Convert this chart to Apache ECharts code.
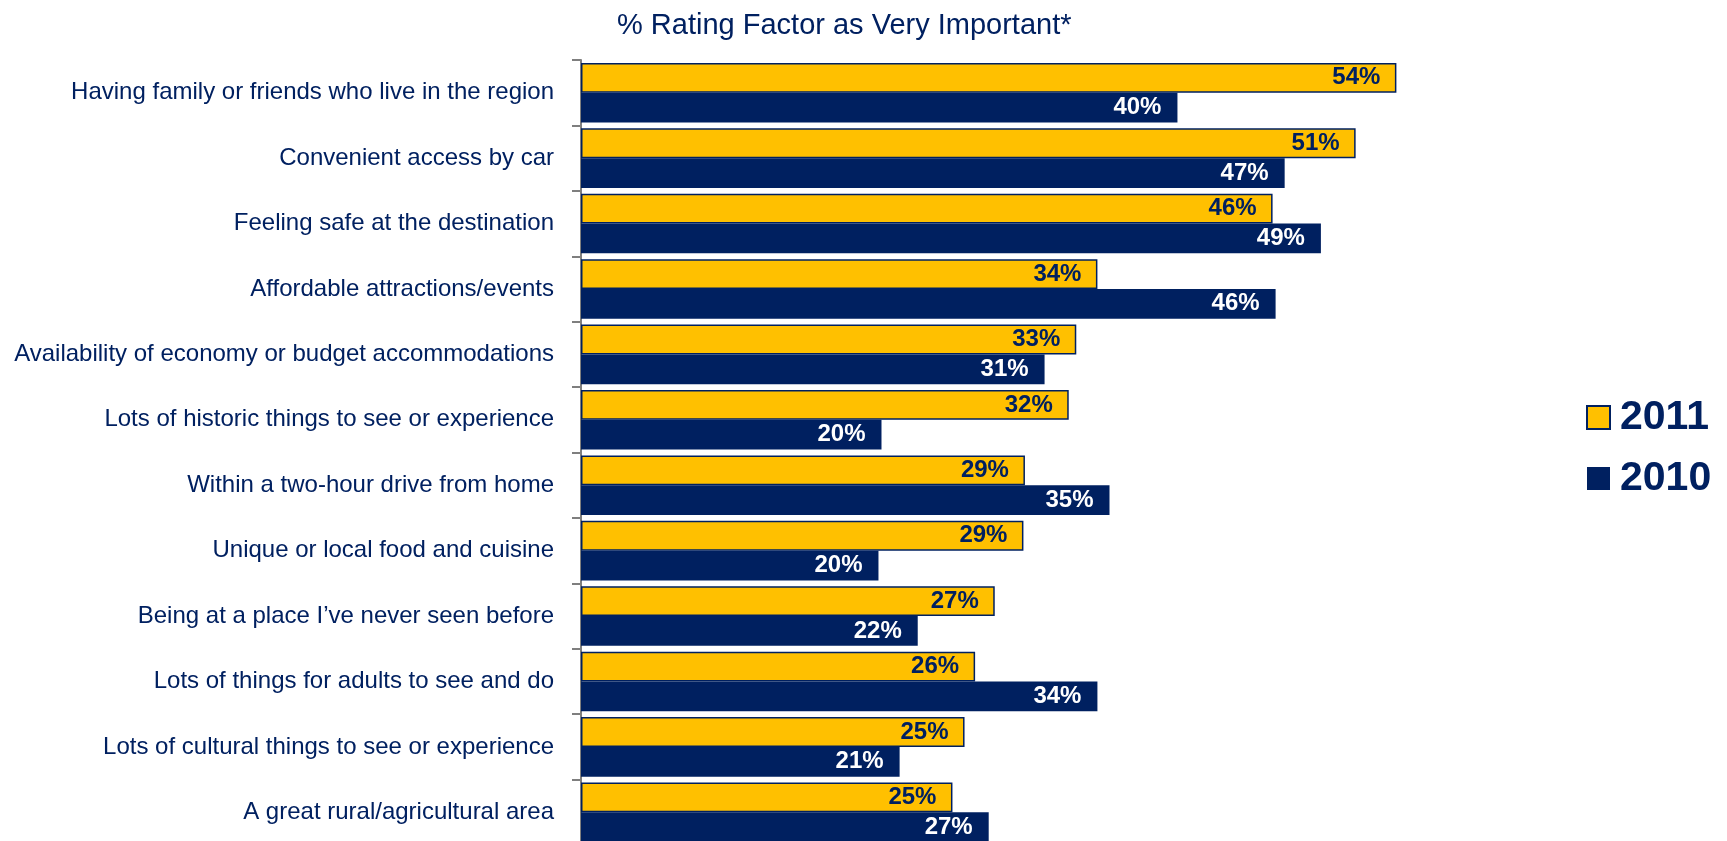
<!DOCTYPE html>
<html>
<head>
<meta charset="utf-8">
<title>% Rating Factor as Very Important*</title>
<script src="https://cdn.jsdelivr.net/npm/echarts@6/dist/echarts.min.js"></script>
<style>
html,body{margin:0;padding:0;background:#fff;}
#mainChart{width:1727px;height:841px;}
</style>
</head>
<body>
<div id="mainChart"></div>
<script>
var categories = [//因素名称，从上到下
	"Having family or friends who live in the region",
	"Convenient access by car",
	"Feeling safe at the destination",
	"Affordable attractions/events",
	"Availability of economy or budget accommodations",
	"Lots of historic things to see or experience",
	"Within a two-hour drive from home",
	"Unique or local food and cuisine",
	"Being at a place I\u2019ve never seen before",
	"Lots of things for adults to see and do",
	"Lots of cultural things to see or experience",
	"A great rural/agricultural area"
];
//按条形长度估读，标签四舍五入显示
var values2011 = [54.0, 51.3, 45.8, 34.2, 32.8, 32.3, 29.4, 29.3, 27.4, 26.1, 25.4, 24.6];//2011年
var values2010 = [39.5, 46.6, 49.0, 46.0, 30.7, 19.9, 35.0, 19.7, 22.3, 34.2, 21.1, 27.0];//2010年
var seriesNames = ["2011", "2010"];

var navy = "#002060";
var gold = "#FFC000";
var font = "'Liberation Sans', Arial, sans-serif";

function pct(p){//标签格式
	return Math.round(p.value) + '%';
}

var myChart = echarts.init(document.getElementById('mainChart'));
var option = {
	animation: false,
	title: {
		text: '% Rating Factor as Very Important*',
		left: 612,
		top: 6,
		textStyle: {color: navy, fontSize: 29, fontWeight: 'normal', fontFamily: font}
	},
	legend: {
		orient: 'vertical',
		left: 1581,
		top: 392,
		itemWidth: 23,
		itemHeight: 23,
		itemGap: 20,
		icon: 'rect',
		textStyle: {color: navy, fontSize: 41, fontWeight: 'bold', fontFamily: font, padding: [0, 0, 0, 5]},
		data: seriesNames
	},
	grid: {
		left: 581,
		top: 60,
		width: 906,
		height: 785,
		containLabel: false,
		outerBoundsMode: 'none'//不自动收缩，让最后一行超出画面
	},
	xAxis: {
		type: 'value',
		min: 0,
		max: 60,
		show: false
	},
	yAxis: {
		type: 'category',
		inverse: true,
		data: categories,
		axisLine: {show: true, lineStyle: {color: '#7f7f7f', width: 2}},
		axisTick: {show: true, length: 9, lineStyle: {color: '#7f7f7f', width: 2}},
		axisLabel: {color: navy, fontSize: 24, fontFamily: font, margin: 27, padding: [6, 0, 0, 0]}
	},
	series: [{
		name: seriesNames[0],
		type: 'bar',
		data: values2011,
		barGap: '0%',
		barCategoryGap: '9%',
		itemStyle: {color: gold, borderColor: navy, borderWidth: 1.5},
		label: {
			show: true,
			position: 'insideRight',
			distance: 16,
			formatter: pct,
			color: navy,
			fontSize: 24,
			fontWeight: 'bold',
			fontFamily: font,
			padding: [4, 0, 0, 0]
		}
	}, {
		name: seriesNames[1],
		type: 'bar',
		data: values2010,
		barGap: '0%',
		barCategoryGap: '9%',
		itemStyle: {color: navy},
		label: {
			show: true,
			position: 'insideRight',
			distance: 16,
			formatter: pct,
			color: '#fff',
			fontSize: 24,
			fontWeight: 'bold',
			fontFamily: font,
			padding: [4, 0, 0, 0]
		}
	}]
};
myChart.setOption(option);
</script>
</body>
</html>
